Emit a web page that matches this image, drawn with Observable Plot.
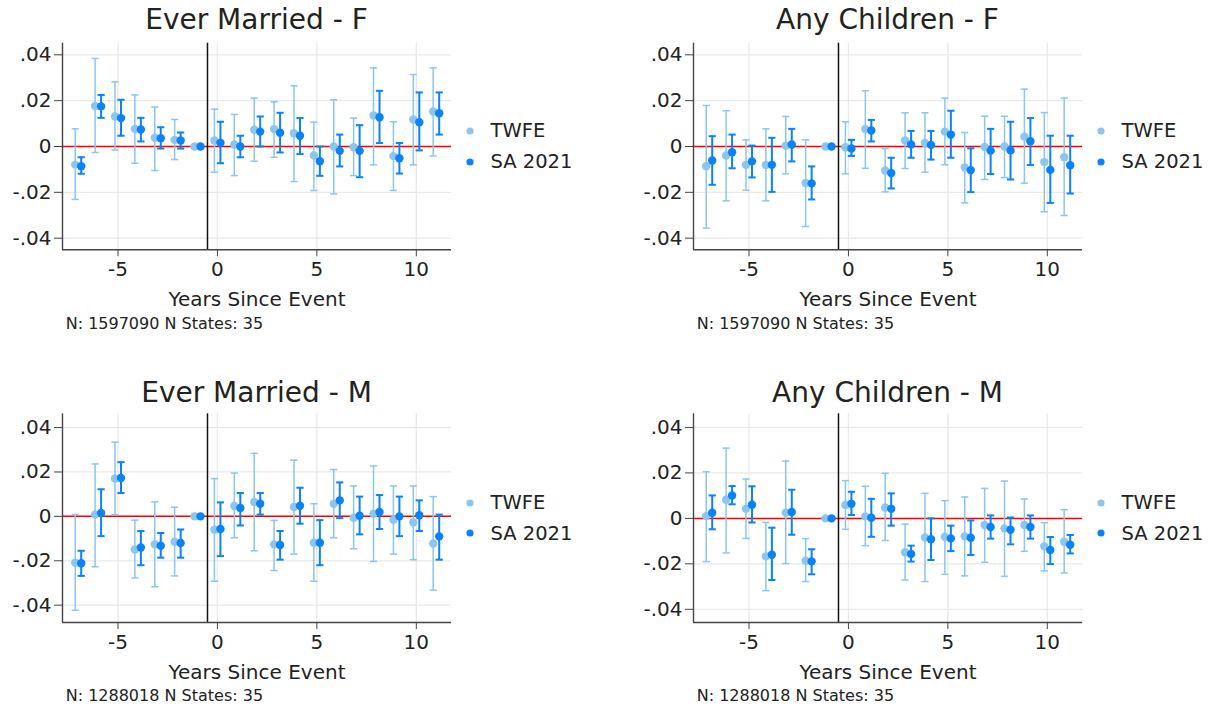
<!DOCTYPE html>
<html><head><meta charset="utf-8">
<script src="https://cdn.jsdelivr.net/npm/d3@7"></script>
<script src="https://cdn.jsdelivr.net/npm/@observablehq/plot@0.6"></script>
<style>
body{margin:0;background:#fff;font-family:"DejaVu Sans",sans-serif;color:#222}
#root{position:relative;width:1216px;height:709px;overflow:hidden;background:#fff}
.abs{position:absolute;white-space:nowrap}
.title{font-size:28px;line-height:28px;text-align:center}
.cap{font-size:16px;line-height:16px}
.leg{font-size:19.5px;line-height:19.5px}
svg.leg-dot{position:absolute}
</style></head><body><div id="root"></div><script>
// ---------- data ----------
const years = [-7,-6,-5,-4,-3,-2,-1,0,1,2,3,4,5,6,7,8,9,10,11];
const titles = ["Ever Married - F","Any Children - F","Ever Married - M","Any Children - M"];
const captions = ["N: 1597090 N States: 35","N: 1597090 N States: 35","N: 1288018 N States: 35","N: 1288018 N States: 35"];
const seriesNames = ["TWFE","SA 2021"];
const xTicks = [-5,0,5,10];
const xTickLabels = ["-5","0","5","10"];
const yTicks = [-0.04,-0.02,0,0.02,0.04];
const yTickLabels = ["-.04","-.02","0",".02",".04"];
const xLabel = "Years Since Event";

// Ever Married - F
const emF_twfe_b  = [-0.0079,0.0177,0.0131,0.0077,0.0038,0.0029,0,0.0026,0.0009,0.0073,0.0076,0.0058,-0.0039,0.0000,-0.0003,0.0135,-0.0042,0.0118,0.0153];
const emF_twfe_lo = [-0.0231,-0.0026,-0.0015,-0.0073,-0.0105,-0.0057,null,-0.0112,-0.0127,-0.0064,-0.0047,-0.0153,-0.0192,-0.0207,-0.0127,-0.0080,-0.0192,-0.0080,-0.0041];
const emF_twfe_hi = [0.0077,0.0384,0.0282,0.0225,0.0172,0.0118,null,0.0163,0.0140,0.0211,0.0195,0.0265,0.0106,0.0204,0.0124,0.0343,0.0108,0.0314,0.0343];
const emF_sa_b    = [-0.0086,0.0175,0.0124,0.0074,0.0036,0.0026,0,0.0016,0.0000,0.0065,0.0060,0.0047,-0.0064,-0.0019,-0.0019,0.0128,-0.0051,0.0106,0.0145];
const emF_sa_lo   = [-0.0119,0.0125,0.0047,0.0022,-0.0009,-0.0009,null,-0.0073,-0.0047,0.0000,-0.0026,-0.0033,-0.0128,-0.0087,-0.0134,0.0015,-0.0118,-0.0017,0.0052];
const emF_sa_hi   = [-0.0047,0.0225,0.0204,0.0125,0.0084,0.0061,null,0.0108,0.0047,0.0131,0.0147,0.0124,0.0000,0.0052,0.0093,0.0243,0.0015,0.0236,0.0236];

// Any Children - F
const acF_twfe_b  = [-0.0086,-0.0039,-0.0080,-0.0081,0.0003,-0.0159,0,-0.0003,0.0076,-0.0105,0.0026,0.0015,0.0065,-0.0091,-0.0002,0.0000,0.0043,-0.0068,-0.0047];
const acF_twfe_lo = [-0.0356,-0.0237,-0.0191,-0.0237,-0.0119,-0.0349,null,-0.0119,-0.0095,-0.0198,-0.0096,-0.0112,-0.0080,-0.0246,-0.0144,-0.0136,-0.0160,-0.0285,-0.0301];
const acF_twfe_hi = [0.0179,0.0156,0.0029,0.0077,0.0131,0.0029,null,0.0108,0.0243,-0.0009,0.0147,0.0147,0.0211,0.0061,0.0132,0.0132,0.0250,0.0148,0.0211];
const acF_sa_b    = [-0.0061,-0.0025,-0.0065,-0.0080,0.0009,-0.0161,0,-0.0009,0.0070,-0.0116,0.0009,0.0007,0.0052,-0.0103,-0.0018,-0.0017,0.0023,-0.0102,-0.0082];
const acF_sa_lo   = [-0.0167,-0.0095,-0.0135,-0.0198,-0.0065,-0.0231,null,-0.0041,0.0022,-0.0183,-0.0049,-0.0057,-0.0049,-0.0199,-0.0120,-0.0144,-0.0081,-0.0246,-0.0205];
const acF_sa_hi   = [0.0045,0.0052,0.0004,0.0038,0.0077,-0.0087,null,0.0029,0.0116,-0.0049,0.0068,0.0068,0.0156,-0.0008,0.0077,0.0108,0.0124,0.0047,0.0047];

// Ever Married - M
const emM_twfe_b  = [-0.0209,0.0008,0.0170,-0.0149,-0.0126,-0.0114,0,-0.0060,0.0047,0.0065,-0.0126,0.0042,-0.0119,0.0057,-0.0006,0.0012,-0.0015,-0.0027,-0.0122];
const emM_twfe_lo = [-0.0423,-0.0227,0.0008,-0.0277,-0.0317,-0.0268,null,-0.0292,-0.0096,-0.0155,-0.0244,-0.0170,-0.0292,-0.0096,-0.0146,-0.0203,-0.0170,-0.0195,-0.0332];
const emM_twfe_hi = [0.0008,0.0236,0.0334,-0.0017,0.0065,0.0041,null,0.0170,0.0195,0.0284,-0.0018,0.0253,0.0057,0.0211,0.0137,0.0227,0.0137,0.0137,0.0089];
const emM_sa_b    = [-0.0211,0.0015,0.0173,-0.0140,-0.0132,-0.0120,0,-0.0057,0.0038,0.0057,-0.0129,0.0048,-0.0119,0.0072,0.0003,0.0020,0.0000,0.0005,-0.0090];
const emM_sa_lo   = [-0.0268,-0.0089,0.0105,-0.0220,-0.0186,-0.0186,null,-0.0179,-0.0041,0.0008,-0.0195,-0.0033,-0.0220,-0.0008,-0.0081,-0.0057,-0.0089,-0.0066,-0.0195];
const emM_sa_hi   = [-0.0155,0.0122,0.0244,-0.0066,-0.0075,-0.0059,null,0.0063,0.0105,0.0105,-0.0066,0.0129,-0.0017,0.0153,0.0089,0.0096,0.0089,0.0072,0.0008];

// Any Children - M
const acM_twfe_b  = [0.0010,0.0082,0.0042,-0.0167,0.0025,-0.0186,0,0.0059,0.0009,0.0048,-0.0149,-0.0084,-0.0081,-0.0079,-0.0029,-0.0044,-0.0029,-0.0123,-0.0103];
const acM_twfe_lo = [-0.0190,-0.0152,-0.0088,-0.0318,-0.0199,-0.0278,null,-0.0048,-0.0120,-0.0097,-0.0271,-0.0278,-0.0246,-0.0253,-0.0193,-0.0255,-0.0145,-0.0231,-0.0240];
const acM_twfe_hi = [0.0205,0.0309,0.0173,-0.0018,0.0252,-0.0089,null,0.0166,0.0141,0.0198,-0.0025,0.0110,0.0078,0.0094,0.0132,0.0164,0.0085,-0.0019,0.0038];
const acM_sa_b    = [0.0025,0.0101,0.0060,-0.0160,0.0028,-0.0189,0,0.0064,0.0003,0.0042,-0.0157,-0.0092,-0.0088,-0.0085,-0.0038,-0.0050,-0.0038,-0.0139,-0.0116];
const acM_sa_lo   = [-0.0048,0.0062,-0.0018,-0.0271,-0.0072,-0.0246,null,0.0015,-0.0081,-0.0032,-0.0190,-0.0183,-0.0144,-0.0161,-0.0089,-0.0114,-0.0089,-0.0201,-0.0154];
const acM_sa_hi   = [0.0101,0.0142,0.0141,-0.0041,0.0126,-0.0136,null,0.0117,0.0086,0.0110,-0.0120,0.0000,-0.0032,-0.0009,0.0013,0.0004,0.0013,-0.0082,-0.0073];

// ---------- styling / layout ----------
const COL_TWFE = "#8cc5ee";
const COL_SA = "#0a82f8";
const xDomain = [-7.79, 11.77];
const W = 460, H = 330;

function rows(b, lo, hi) { return years.map((t, i) => ({t, b: b[i], lo: lo[i], hi: hi[i]})); }

const panels = [
  {left: 0,   top: 0,   mt: 42.7, mb: 80.7, yDomain: [-0.04507, 0.04507], twfe: rows(emF_twfe_b, emF_twfe_lo, emF_twfe_hi), sa: rows(emF_sa_b, emF_sa_lo, emF_sa_hi)},
  {left: 631, top: 0,   mt: 42.7, mb: 80.7, yDomain: [-0.04507, 0.04507], twfe: rows(acF_twfe_b, acF_twfe_lo, acF_twfe_hi), sa: rows(acF_sa_b, acF_sa_lo, acF_sa_hi)},
  {left: 0,   top: 370, mt: 43.3, mb: 78,   yDomain: [-0.0478, 0.0462],   twfe: rows(emM_twfe_b, emM_twfe_lo, emM_twfe_hi), sa: rows(emM_sa_b, emM_sa_lo, emM_sa_hi)},
  {left: 631, top: 370, mt: 43.3, mb: 78,   yDomain: [-0.0458, 0.0460],   twfe: rows(acM_twfe_b, acM_twfe_lo, acM_twfe_hi), sa: rows(acM_sa_b, acM_sa_lo, acM_sa_hi)}
];

const capSymbol = {draw(ctx, size) { const w = Math.sqrt(size / Math.PI); ctx.moveTo(-w, 0); ctx.lineTo(w, 0); }};

function seriesMarks(data, color, dx, sw) {
  const ci = data.filter(d => d.lo != null && d.hi != null);
  return [
    Plot.ruleX(ci, {x: "t", y1: "lo", y2: "hi", dx, stroke: color, strokeWidth: sw}),
    Plot.dot(ci, {x: "t", y: "lo", dx, symbol: capSymbol, r: 3.6, stroke: color, fill: "none", strokeWidth: sw}),
    Plot.dot(ci, {x: "t", y: "hi", dx, symbol: capSymbol, r: 3.6, stroke: color, fill: "none", strokeWidth: sw}),
    Plot.dot(data, {x: "t", y: "b", dx, r: 4.2, fill: color, stroke: null})
  ];
}

const root = document.getElementById("root");
panels.forEach((p, i) => {
  const chart = Plot.plot({
    width: W, height: H,
    marginLeft: 62, marginRight: 9, marginTop: p.mt, marginBottom: p.mb,
    style: {fontFamily: "DejaVu Sans", fontSize: "20px", color: "#222", background: "transparent"},
    x: {domain: xDomain},
    y: {domain: p.yDomain},
    marks: [
      Plot.gridY(yTicks, {stroke: "#e9e9e9", strokeOpacity: 1, strokeWidth: 1.3}),
      Plot.gridX(xTicks, {stroke: "#e9e9e9", strokeOpacity: 1, strokeWidth: 1.3}),
      Plot.ruleY([0], {stroke: "#ff0000", strokeWidth: 1.5}),
      Plot.ruleX([-0.5], {stroke: "#111", strokeWidth: 1.5}),
      ...seriesMarks(p.twfe, COL_TWFE, -3, 1.5),
      ...seriesMarks(p.sa, COL_SA, 3, 2),
      Plot.ruleX([xDomain[0]], {stroke: "#444", strokeWidth: 1.4}),
      Plot.ruleY([p.yDomain[0]], {stroke: "#444", strokeWidth: 1.4}),
      Plot.axisY(yTicks, {tickSize: 8, tickPadding: 3, stroke: "#444", tickFormat: d => yTickLabels[yTicks.indexOf(d)], label: null}),
      Plot.axisX(xTicks, {tickSize: 7, tickPadding: 5, stroke: "#444", tickFormat: d => xTickLabels[xTicks.indexOf(d)], label: xLabel, labelAnchor: "center", labelArrow: "none", labelOffset: 56})
    ]
  });
  chart.style.position = "absolute";
  chart.style.left = p.left + "px";
  chart.style.top = p.top + "px";
  root.appendChild(chart);

  const frameL = p.left + 62, frameR = p.left + W - 9;
  const t = document.createElement("div");
  t.className = "abs title";
  t.textContent = titles[i];
  t.style.left = frameL + "px";
  t.style.width = (frameR - frameL) + "px";
  t.style.top = (p.top + (i < 2 ? 5.6 : 8.6)) + "px";
  root.appendChild(t);

  const c = document.createElement("div");
  c.className = "abs cap";
  c.textContent = captions[i];
  c.style.left = (p.left + 65.7) + "px";
  c.style.top = (p.top + (i < 2 ? 315.8 : 318.1)) + "px";
  root.appendChild(c);

  const legY = i < 2 ? [130.7, 161.7] : [132.7, 163.3];
  seriesNames.forEach((name, k) => {
    const cy = p.top + legY[k];
    const dot = document.createElementNS("http://www.w3.org/2000/svg", "svg");
    dot.setAttribute("class", "leg-dot");
    dot.setAttribute("width", 10); dot.setAttribute("height", 10);
    dot.style.left = (frameR + 18.5 - 5) + "px";
    dot.style.top = (cy - 5) + "px";
    dot.innerHTML = `<circle cx="5" cy="5" r="3.6" fill="${k === 0 ? COL_TWFE : COL_SA}"/>`;
    root.appendChild(dot);
    const l = document.createElement("div");
    l.className = "abs leg";
    l.textContent = name;
    l.style.left = (frameR + 39.5) + "px";
    l.style.top = (cy - 9.4) + "px";
    root.appendChild(l);
  });
});
</script></body></html>
